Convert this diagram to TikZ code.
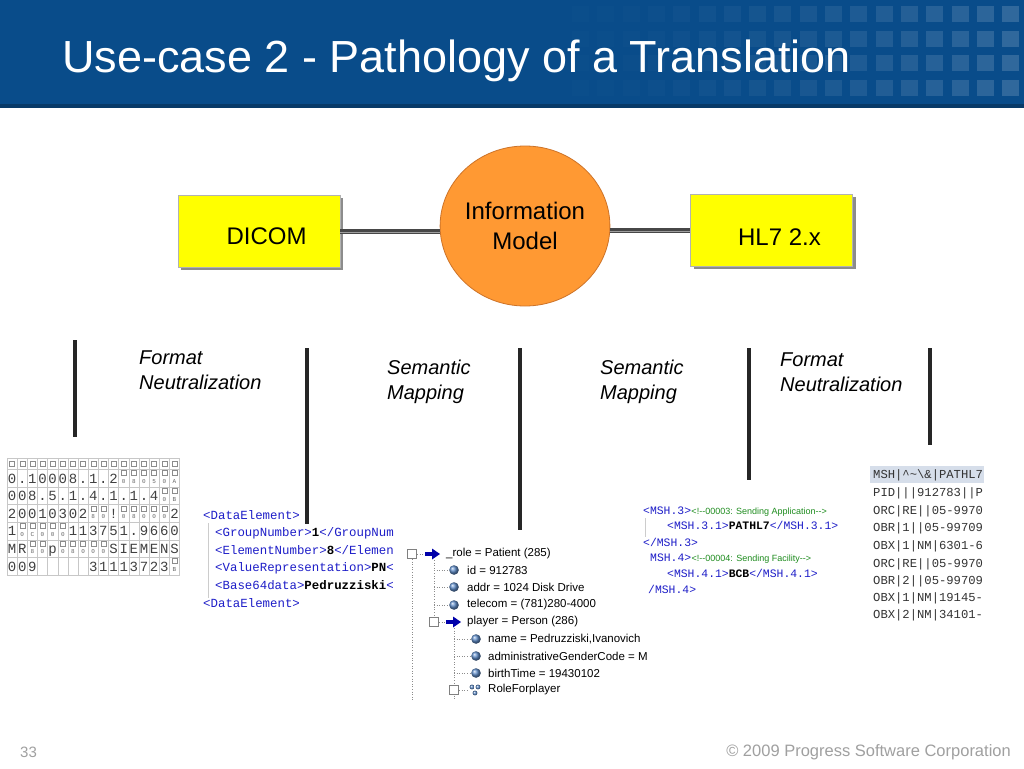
\documentclass[tikz,border=0pt]{standalone}
\usepackage{fontspec}
\setmainfont{Liberation Sans}
\newfontfamily\monofont{Liberation Mono}
\usetikzlibrary{shapes.geometric,shadows}
\definecolor{hdrblue}{RGB}{9,76,138}
\definecolor{hdrdark}{RGB}{8,58,104}
\definecolor{boxyellow}{RGB}{255,255,0}
\definecolor{imorange}{RGB}{255,153,51}
\definecolor{imborder}{RGB}{205,115,40}
\definecolor{xmlblue}{RGB}{30,30,200}
\definecolor{cmtgreen}{RGB}{30,140,30}
\definecolor{ballblue}{RGB}{95,140,200}
\definecolor{arrowblue}{RGB}{0,0,170}
\definecolor{footgray}{RGB}{160,160,160}
\definecolor{hlback}{RGB}{214,222,234}
\newcommand\fsz[1]{\fontsize{#1}{#1}\selectfont}
\newcommand\xt[1]{\textcolor{xmlblue}{#1}}
\newcommand\xv[1]{\textcolor{black}{\textbf{#1}}}
\tikzset{
  ybox/.style={draw=gray!60, fill=boxyellow, line width=0.8pt, minimum width=162pt,
    minimum height=72pt, inner sep=0pt, font=\fsz{24},
    drop shadow={shadow xshift=3pt, shadow yshift=-3pt, opacity=1, fill=black!45}},
  connA/.style={line width=5pt, color=black!72},
  connB/.style={line width=1.4pt, color=black!38},
  bar/.style={line width=3.5pt, color=black!85},
  lbl/.style={anchor=north west, inner sep=0pt, align=left, font=\fontsize{20}{24.5}\selectfont\itshape, text=black},
  hexgrid/.style={draw=black!22, line width=0.5pt},
  hexsm/.style={draw=black!45, line width=0.4pt},
  hexc/.style={anchor=base, inner sep=0pt, font=\monofont\fsz{14}, text=black!75},
  hextiny/.style={anchor=base, inner sep=0pt, font=\monofont\fsz{6}, text=black!60},
  xml/.style={anchor=base west, inner sep=0pt, font=\monofont\fsz{12.4}},
  xmlb/.style={anchor=base west, inner sep=0pt, font=\monofont\fsz{11.4}},
  cmt/.style={anchor=base west, inner sep=0pt, font=\fsz{9}, text=cmtgreen},
  hl/.style={anchor=base west, inner sep=0pt, font=\monofont\fsz{12.2}, text=black!80},
  treetxt/.style={anchor=west, inner sep=0pt, font=\fsz{11.5}, text=black},
  treedot/.style={draw=black!45, dotted, line width=0.6pt},
  tbox/.style={draw=black!50, fill=white, line width=0.5pt},
  foot/.style={inner sep=0pt, text=footgray}
}
\newcommand\hexrow[2]{%
  \foreach \ty/\ch [count=\i from 0] in {#2}{%
    \pgfmathsetmacro\cx{12.075+10.15*\i}%
    \pgfmathsetmacro\cy{478+17.6*(#1-1)}%
    \if c\ty \node[hexc] at (\cx,\cy+5) {\ch};\fi
    \if s\ty \draw[hexsm] (\cx-2.5,\cy-7.5) rectangle (\cx+2.5,\cy-2.5); \node[hextiny] at (\cx,\cy+5.5) {\ch};\fi
  }}
\newcommand\tball[2]{\shade[ball color=ballblue] (#1,#2) circle (4.8);}
\newcommand\tarrow[2]{\fill[arrowblue] (#1,#2-1.8) rectangle (#1+8,#2+1.8); \fill[arrowblue] (#1+7,#2-5.5) -- (#1+15,#2) -- (#1+7,#2+5.5) -- cycle;}
\begin{document}
\begin{tikzpicture}[x=1pt,y=-1pt]
\useasboundingbox (0,0) rectangle (1024,768);
\fill[white] (0,0) rectangle (1024,768);
% header
\fill[hdrblue] (0,0) rectangle (1024,107);
\fill[hdrdark] (0,104) rectangle (1024,107.5);
\foreach \k in {0,...,17}{
  \pgfmathsetmacro\sx{572+25.3*\k}
  \pgfmathsetmacro\op{0.01+0.15*(\k/17)^1.5}
  \foreach \r in {0,...,3}{
    \fill[white, opacity=\op] (\sx,6+24.7*\r) rectangle ++(17,16);
  }
}
\node[anchor=base west, inner sep=0pt, font=\fsz{45}, text=white] (title) at (62,72) {Use-case 2 - Pathology of a Translation};

% boxes and model
\node[ybox, text height=27.2pt, text depth=0pt] (dicom) at (259,231) {\hspace*{15pt}DICOM};
\node[ybox, text height=31pt, text depth=0pt] (hl7) at (771.5,230) {\hspace*{16pt}HL7 2.x};
\node[ellipse, draw=imborder, fill=imorange, line width=0.8pt, minimum width=164pt, minimum height=160pt,
  inner sep=0pt, align=center, font=\fontsize{24}{30}\selectfont] (im) at (525,226) {Information\\Model};
\draw[connA] (dicom.east) -- (dicom.east -| im.west);
\draw[connB, transform canvas={yshift=-1.3pt}] (dicom.east) -- (dicom.east -| im.west);
\draw[connA] (im.east |- hl7.west) -- (hl7.west);
\draw[connB, transform canvas={yshift=-1.3pt}] (im.east |- hl7.west) -- (hl7.west);

% bars
\draw[bar] (75,340) -- (75,437);
\draw[bar] (307,348) -- (307,524);
\draw[bar] (520,348) -- (520,530);
\draw[bar] (749,348) -- (749,480);
\draw[bar] (930,348) -- (930,445);

% labels
\node[lbl] (fn1) at (139,351) {Format\\Neutralization};
\node[lbl] (sm1) at (387,360) {Semantic\\Mapping};
\node[lbl] (sm2) at (600,360) {Semantic\\Mapping};
\node[lbl] (fn2) at (780,353) {Format\\Neutralization};

% hex dump grid
\foreach \i in {0,...,17} \draw[hexgrid] ({7+10.15*\i},458) -- ({7+10.15*\i},575);
\foreach \yy in {458,469,487,504.6,522.2,539.8,557.4,575} \draw[hexgrid] (7,\yy) -- (179.55,\yy);
\foreach \i in {0,...,16} \draw[hexsm] ({12.075+10.15*\i-2.5},461) rectangle ++(5,5);
\hexrow{1}{c/0,c/.,c/1,c/0,c/0,c/0,c/8,c/.,c/1,c/.,c/2,s/0,s/8,s/0,s/5,s/0,s/A}
\hexrow{2}{c/0,c/0,c/8,c/.,c/5,c/.,c/1,c/.,c/4,c/.,c/1,c/.,c/1,c/.,c/4,s/0,s/B}
\hexrow{3}{c/2,c/0,c/0,c/1,c/0,c/3,c/0,c/2,s/8,s/0,c/!,s/0,s/8,s/0,s/0,s/0,c/2}
\hexrow{4}{c/1,s/0,s/C,s/0,s/0,s/0,c/1,c/1,c/3,c/7,c/5,c/1,c/.,c/9,c/6,c/6,c/0}
\hexrow{5}{c/M,c/R,s/8,s/0,c/p,s/0,s/8,s/0,s/0,s/0,c/S,c/I,c/E,c/M,c/E,c/N,c/S}
\hexrow{6}{c/0,c/0,c/9,e/x,e/x,e/x,e/x,e/x,c/3,c/1,c/1,c/1,c/3,c/7,c/2,c/3,s/B}

% XML block (DICOM)
\draw[draw=black!20, line width=0.6pt] (208,523) -- (208,598);
\node[xml] (xa) at (203,519) {\xt{<DataElement>}};
\node[xml] (xb) at (215,536.6) {\xt{<GroupNumber>}\xv{1}\xt{</GroupNum}};
\node[xml] (xc) at (215,554.2) {\xt{<ElementNumber>}\xv{8}\xt{</Elemen}};
\node[xml] (xd) at (215,571.8) {\xt{<ValueRepresentation>}\xv{PN}\xt{<}};
\node[xml] (xe) at (215,589.4) {\xt{<Base64data>}\xv{Pedruzziski}\xt{<}};
\node[xml] (xf) at (203,607) {\xt{<DataElement>}};

% tree (information model instance)
\draw[treedot] (412,559) -- (412,700);
\draw[treedot] (417,554) -- (425,554);
\draw[treedot] (434,560) -- (434,617);
\foreach \yy in {570,587,605} \draw[treedot] (434,\yy) -- (449,\yy);
\draw[treedot] (439,622) -- (446,622);
\draw[treedot] (454,628) -- (454,700);
\foreach \yy in {639,656,673} \draw[treedot] (454,\yy) -- (471,\yy);
\draw[treedot] (459,690) -- (468,690);
\draw[tbox] (407.5,549.5) rectangle (416.5,558.5);
\tarrow{425}{554}
\node[treetxt] (t1) at (446,554) {\_role = Patient (285)};
\tball{454}{570}
\node[treetxt] (t2) at (467,570) {id = 912783};
\tball{454}{587}
\node[treetxt] (t3) at (467,587) {addr = 1024 Disk Drive};
\tball{454}{605}
\node[treetxt] (t4) at (467,605) {telecom = (781)280-4000};
\draw[tbox] (429.5,617.5) rectangle (438.5,626.5);
\tarrow{446}{622}
\node[treetxt] (t5) at (467,622) {player = Person (286)};
\tball{476}{639}
\node[treetxt] (t6) at (488,639) {name = Pedruzziski,Ivanovich};
\tball{476}{656}
\node[treetxt] (t7) at (488,656) {administrativeGenderCode = M};
\tball{476}{673}
\node[treetxt] (t8) at (488,673) {birthTime = 19430102};
\draw[tbox] (449.5,685.5) rectangle (458.5,694.5);
\shade[ball color=ballblue] (472,687) circle (2.4);
\shade[ball color=ballblue] (478,687) circle (2.4);
\shade[ball color=ballblue] (475,693) circle (2.4);
\node[treetxt] (t9) at (488,690) {RoleForplayer};

% XML block (HL7)
\draw[draw=black!20, line width=0.6pt] (645,518) -- (645,537);
\node[xmlb] (ha) at (643,514) {\xt{<MSH.3>}};
\node[cmt] (hac) at (ha.base east) {<!-{}-00003: Sending Application-{}->};
\node[xmlb] (hb) at (667,529.5) {\xt{<MSH.3.1>}\xv{PATHL7}\xt{</MSH.3.1>}};
\node[xmlb] (hc) at (643,546) {\xt{</MSH.3>}};
\node[xmlb] (hd) at (650,561) {\xt{MSH.4>}};
\node[cmt] (hdc) at (hd.base east) {<!-{}-00004: Sending Facility-{}->};
\node[xmlb] (he) at (667,577) {\xt{<MSH.4.1>}\xv{BCB}\xt{</MSH.4.1>}};
\node[xmlb] (hf) at (648,593) {\xt{/MSH.4>}};

% HL7 message
\fill[hlback] (870,466) rectangle (984,483);
\node[hl] (m1) at (873,478) {MSH|\^{}\~{}\textbackslash\&|PATHL7};
\node[hl] (m2) at (873,496) {PID|||912783||P};
\node[hl] (m3) at (873,514) {ORC|RE||05-9970};
\node[hl] (m4) at (873,531) {OBR|1||05-99709};
\node[hl] (m5) at (873,549) {OBX|1|NM|6301-6};
\node[hl] (m6) at (873,567) {ORC|RE||05-9970};
\node[hl] (m7) at (873,584) {OBR|2||05-99709};
\node[hl] (m8) at (873,601) {OBX|1|NM|19145-};
\node[hl] (m9) at (873,618) {OBX|2|NM|34101-};

% footer
\node[foot, anchor=west, font=\fsz{15}] (pg) at (20,752) {33};
\node[foot, anchor=east, font=\fsz{16.5}] (copy) at (1011,752) {© 2009 Progress Software Corporation};
\end{tikzpicture}
\end{document}
